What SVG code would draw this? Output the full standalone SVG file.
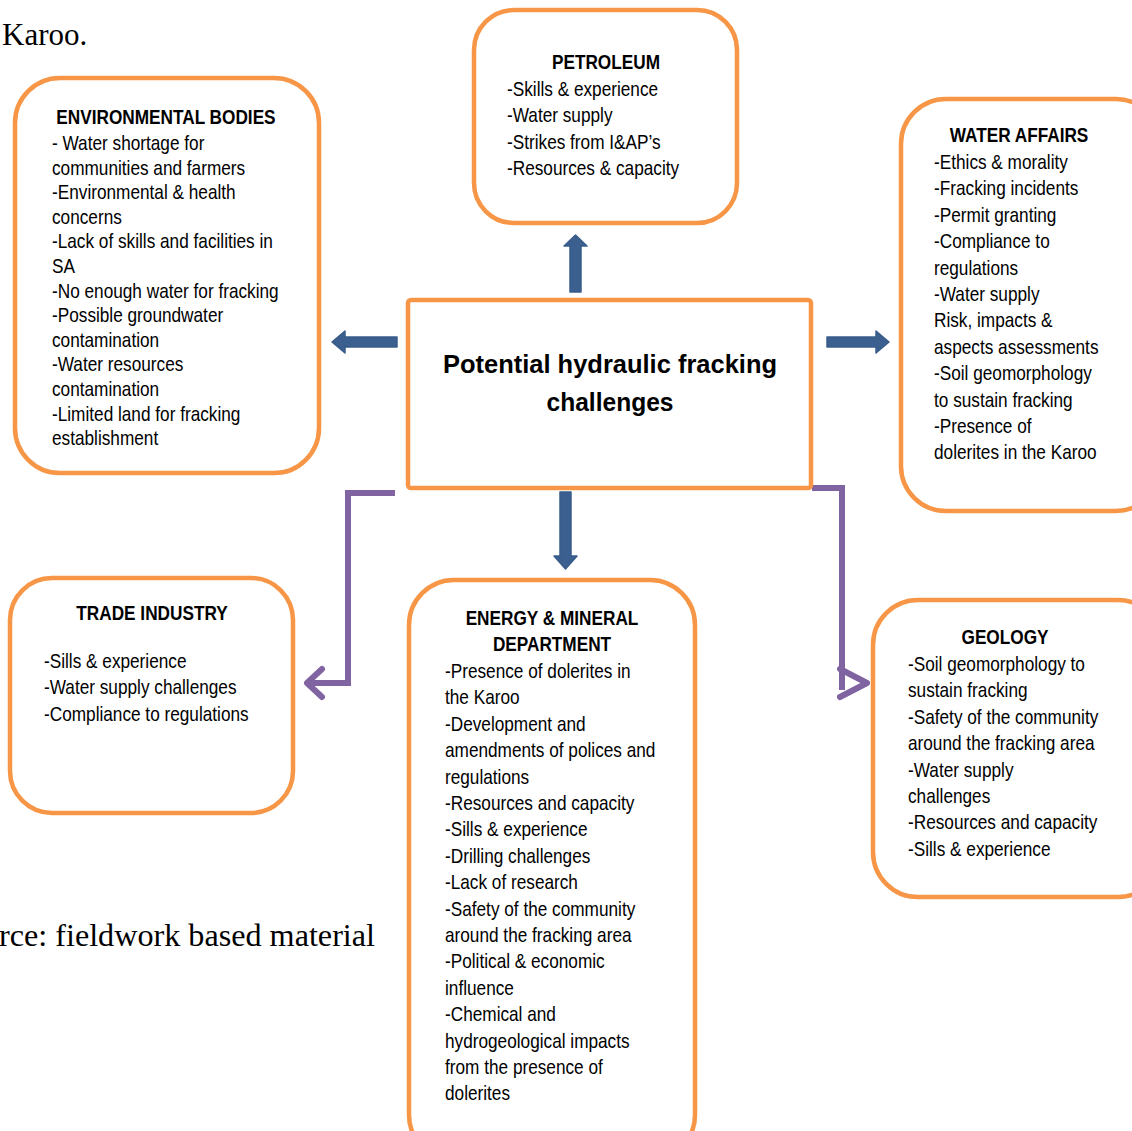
<svg xmlns="http://www.w3.org/2000/svg" width="1132" height="1131" viewBox="0 0 1132 1131">
<style>
.box{fill:#fff;stroke:#F79646;stroke-width:4.5}
.t{font-family:"Liberation Sans",Arial,sans-serif;font-size:21px;fill:#000}
.h{font-weight:bold;text-anchor:middle}
.serif{font-family:"Liberation Serif","Times New Roman",serif;font-size:31px;fill:#000}
.blue{fill:#3B5F8E;stroke:#385D8A;stroke-width:1.5;stroke-linejoin:round}
.purple{fill:none;stroke:#8064A2;stroke-width:6;stroke-linejoin:miter}
.chev{fill:none;stroke:#8064A2;stroke-width:6;stroke-linecap:round;stroke-linejoin:round}
</style>
<rect width="1132" height="1131" fill="#fff"/>
<text class="serif" x="2" y="45">Karoo.</text>
<text class="serif" x="-1" y="946" textLength="376" lengthAdjust="spacingAndGlyphs">rce: fieldwork based material</text>

<g id="connectors">
<polygon class="blue" points="570,292 570,246 564,246 575.5,235 587,246 581,246 581,292"/>
<polygon class="blue" points="397,337 345,337 345,331 332,342 345,353 345,347 397,347"/>
<polygon class="blue" points="827,337 876,337 876,331 889,342 876,353 876,347 827,347"/>
<polygon class="blue" points="560,492 560,556 554,556 565.5,569 577,556 571,556 571,492"/>
<polyline class="purple" points="395,493 348,493 348,683 310,683"/>
<polyline class="chev" points="322,669 307,683 322,697"/>
<polyline class="purple" points="812,488 842,488 842,690"/>
<polyline class="chev" points="840,669 867,683 840,697"/>
</g>

<g id="center">
<rect class="box" x="408" y="300" width="403" height="188" rx="3"/>
<text font-family="'Liberation Sans',Arial,sans-serif" font-weight="bold" font-size="25" text-anchor="middle" x="610" y="373" textLength="334" lengthAdjust="spacingAndGlyphs">Potential hydraulic fracking</text>
<text font-family="'Liberation Sans',Arial,sans-serif" font-weight="bold" font-size="25" text-anchor="middle" x="610" y="411" textLength="127" lengthAdjust="spacingAndGlyphs">challenges</text>
</g>

<g id="petroleum">
<rect class="box" x="474" y="10" width="263" height="213" rx="40"/>
<g transform="translate(507,0) scale(0.82,1)" class="t">
<text class="t h" x="120.7" y="69">PETROLEUM</text>
<text class="t"><tspan x="0" y="96">-Skills &amp; experience</tspan><tspan x="0" y="122.5">-Water supply</tspan><tspan x="0" y="149">-Strikes from I&amp;AP’s</tspan><tspan x="0" y="175.5">-Resources &amp; capacity</tspan></text>
</g>
</g>

<g id="environmental">
<rect class="box" x="15" y="78" width="304" height="395" rx="45"/>
<g transform="translate(52,0) scale(0.82,1)">
<text class="t h" x="139" y="124">ENVIRONMENTAL BODIES</text>
<text class="t"><tspan x="0" y="150">- Water shortage for</tspan><tspan x="0" y="174.6">communities and farmers</tspan><tspan x="0" y="199.2">-Environmental &amp; health</tspan><tspan x="0" y="223.8">concerns</tspan><tspan x="0" y="248.4">-Lack of skills and facilities in</tspan><tspan x="0" y="273">SA</tspan><tspan x="0" y="297.6">-No enough water for fracking</tspan><tspan x="0" y="322.2">-Possible groundwater</tspan><tspan x="0" y="346.8">contamination</tspan><tspan x="0" y="371.4">-Water resources</tspan><tspan x="0" y="396">contamination</tspan><tspan x="0" y="420.6">-Limited land for fracking</tspan><tspan x="0" y="445.2">establishment</tspan></text>
</g>
</g>

<g id="water-affairs">
<rect class="box" x="901" y="99" width="260" height="412" rx="45"/>
<g transform="translate(934,0) scale(0.82,1)">
<text class="t h" x="103.7" y="142">WATER AFFAIRS</text>
<text class="t"><tspan x="0" y="169">-Ethics &amp; morality</tspan><tspan x="0" y="195.4">-Fracking incidents</tspan><tspan x="0" y="221.8">-Permit granting</tspan><tspan x="0" y="248.2">-Compliance to</tspan><tspan x="0" y="274.6">regulations</tspan><tspan x="0" y="301">-Water supply</tspan><tspan x="0" y="327.4">Risk, impacts &amp;</tspan><tspan x="0" y="353.8">aspects assessments</tspan><tspan x="0" y="380.2">-Soil geomorphology</tspan><tspan x="0" y="406.6">to sustain fracking</tspan><tspan x="0" y="433">-Presence of</tspan><tspan x="0" y="459.4">dolerites in the Karoo</tspan></text>
</g>
</g>

<g id="trade-industry">
<rect class="box" x="10" y="578" width="283" height="235" rx="42"/>
<g transform="translate(44,0) scale(0.82,1)">
<text class="t h" x="131.7" y="620">TRADE INDUSTRY</text>
<text class="t"><tspan x="0" y="668">-Sills &amp; experience</tspan><tspan x="0" y="694.5">-Water supply challenges</tspan><tspan x="0" y="721">-Compliance to regulations</tspan></text>
</g>
</g>

<g id="energy-mineral">
<rect class="box" x="409" y="580" width="286" height="580" rx="45"/>
<g transform="translate(445,0) scale(0.82,1)">
<text class="t h" x="130.5" y="625">ENERGY &amp; MINERAL</text>
<text class="t h" x="130.5" y="651">DEPARTMENT</text>
<text class="t"><tspan x="0" y="678">-Presence of dolerites in</tspan><tspan x="0" y="704.4">the Karoo</tspan><tspan x="0" y="730.8">-Development and</tspan><tspan x="0" y="757.2">amendments of polices and</tspan><tspan x="0" y="783.6">regulations</tspan><tspan x="0" y="810">-Resources and capacity</tspan><tspan x="0" y="836.4">-Sills &amp; experience</tspan><tspan x="0" y="862.8">-Drilling challenges</tspan><tspan x="0" y="889.2">-Lack of research</tspan><tspan x="0" y="915.6">-Safety of the community</tspan><tspan x="0" y="942">around the fracking area</tspan><tspan x="0" y="968.4">-Political &amp; economic</tspan><tspan x="0" y="994.8">influence</tspan><tspan x="0" y="1021.2">-Chemical and</tspan><tspan x="0" y="1047.6">hydrogeological impacts</tspan><tspan x="0" y="1074">from the presence of</tspan><tspan x="0" y="1100.4">dolerites</tspan></text>
</g>
</g>

<g id="geology">
<rect class="box" x="873" y="600" width="290" height="297" rx="45"/>
<g transform="translate(908,0) scale(0.82,1)">
<text class="t h" x="118.3" y="644">GEOLOGY</text>
<text class="t"><tspan x="0" y="671">-Soil geomorphology to</tspan><tspan x="0" y="697.4">sustain fracking</tspan><tspan x="0" y="723.8">-Safety of the community</tspan><tspan x="0" y="750.2">around the fracking area</tspan><tspan x="0" y="776.6">-Water supply</tspan><tspan x="0" y="803">challenges</tspan><tspan x="0" y="829.4">-Resources and capacity</tspan><tspan x="0" y="855.8">-Sills &amp; experience</tspan></text>
</g>
</g>
</svg>
